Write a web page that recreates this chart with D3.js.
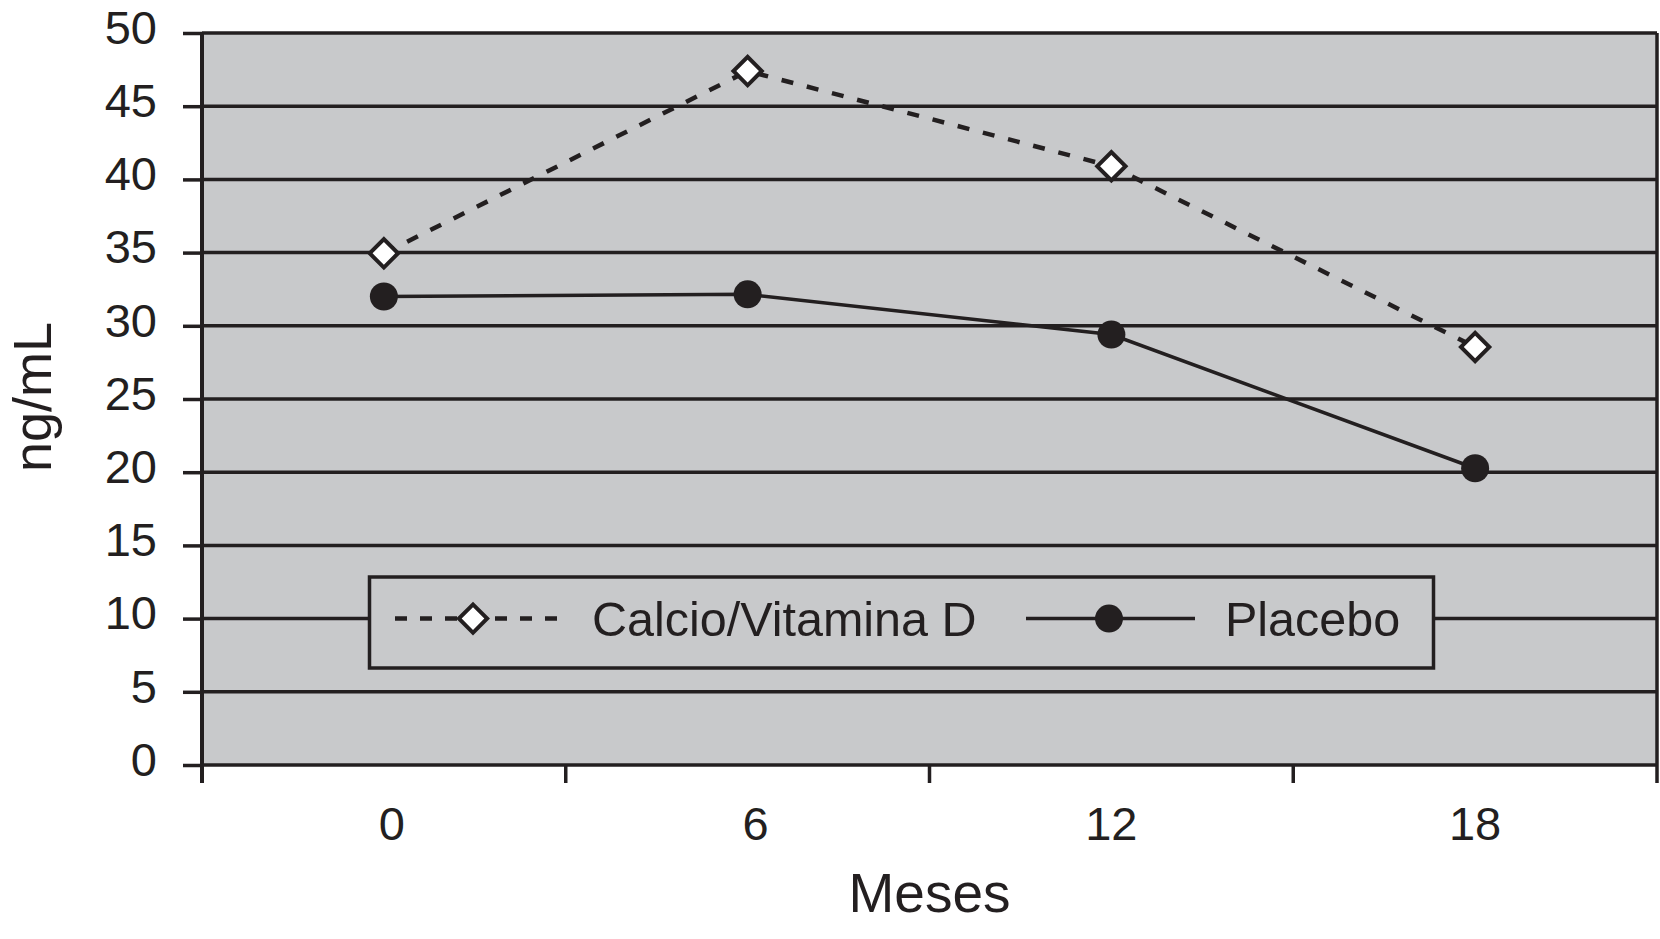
<!DOCTYPE html>
<html>
<head>
<meta charset="utf-8">
<script src="https://cdn.jsdelivr.net/npm/d3@7"></script>
<style>
  html, body { margin: 0; padding: 0; background: #ffffff; }
  svg { display: block; }
  text { font-family: "Liberation Sans", Arial, Helvetica, sans-serif; fill: #231f20; }
</style>
</head>
<body>
<svg id="chart" width="1660" height="939"></svg>
<script>
// ---- data ----
const categories = ["0", "6", "12", "18"];
const calcioValues = [34.95, 47.4, 40.9, 28.55];
const placeboValues = [32.0, 32.15, 29.4, 20.27];
const yTicks = [0, 5, 10, 15, 20, 25, 30, 35, 40, 45, 50];
const seriesNames = ["Calcio/Vitamina D", "Placebo"];
const xTitle = "Meses";
const yTitle = "ng/mL";

// ---- layout ----
const ink = "#231f20";
const plotBg = "#c8c9cb";
const mLeft = 202, mRight = 1657, mTop = 33, mBottom = 765;

const svg = d3.select("#chart");

const x = d3.scaleBand().domain(categories).range([mLeft, mRight]).padding(0);
const y = d3.scaleLinear().domain([0, 50]).range([mBottom, mTop]);
const cx = c => x(c) + x.bandwidth() / 2;

// plot background
svg.append("rect")
  .attr("x", mLeft).attr("y", mTop)
  .attr("width", mRight - mLeft).attr("height", mBottom - mTop)
  .attr("fill", plotBg);

// gridlines
svg.append("g")
  .selectAll("line")
  .data(yTicks)
  .join("line")
  .attr("x1", mLeft).attr("x2", mRight)
  .attr("y1", d => y(d)).attr("y2", d => y(d))
  .attr("stroke", ink).attr("stroke-width", 3.5);

// y axis
const yAxis = d3.axisLeft(y).tickValues(yTicks).tickSize(19).tickPadding(26).tickFormat(d3.format("d"));
const gy = svg.append("g").attr("transform", `translate(${mLeft},0)`).call(yAxis);
gy.select(".domain").remove();
gy.selectAll(".tick line").attr("stroke", ink).attr("stroke-width", 3.5);
gy.selectAll(".tick text")
  .attr("font-size", 47)
  .attr("fill", ink)
  .attr("dy", "0.22em")
  .attr("x", -45)
  .style("font-family", '"Liberation Sans", Arial, sans-serif');

// left axis line and right border
svg.append("line")
  .attr("x1", mLeft).attr("x2", mLeft).attr("y1", mTop).attr("y2", mBottom + 18)
  .attr("stroke", ink).attr("stroke-width", 4);
svg.append("line")
  .attr("x1", mRight).attr("x2", mRight).attr("y1", mTop).attr("y2", mBottom + 18)
  .attr("stroke", ink).attr("stroke-width", 3.5);

// x tick marks at band boundaries
const boundaries = categories.map(c => x(c)).concat([x(categories[categories.length - 1]) + x.bandwidth()]);
svg.append("g")
  .selectAll("line")
  .data(boundaries.slice(1, -1))
  .join("line")
  .attr("x1", d => d).attr("x2", d => d)
  .attr("y1", mBottom).attr("y2", mBottom + 18)
  .attr("stroke", ink).attr("stroke-width", 3.5);

// x axis labels
const xAxis = d3.axisBottom(x).tickSize(0).tickPadding(0);
const gx = svg.append("g").attr("transform", `translate(0,${mBottom})`).call(xAxis);
gx.select(".domain").remove();
gx.selectAll(".tick text")
  .attr("font-size", 47)
  .attr("fill", ink)
  .attr("y", 75)
  .attr("dy", 0)
  .attr("dx", (d, i) => (i < 2 ? 8 : 0))
  .style("font-family", '"Liberation Sans", Arial, sans-serif');

// axis titles
svg.append("text")
  .attr("x", (mLeft + mRight) / 2).attr("y", 912)
  .attr("text-anchor", "middle")
  .attr("font-size", 55)
  .text(xTitle);
svg.append("text")
  .attr("transform", `translate(51,${(mTop + mBottom) / 2 - 2}) rotate(-90)`)
  .attr("text-anchor", "middle")
  .attr("font-size", 54)
  .text(yTitle);

// lines
const line = d3.line().x((d, i) => cx(categories[i])).y(d => y(d));

svg.append("path")
  .datum(placeboValues)
  .attr("d", line)
  .attr("fill", "none")
  .attr("stroke", ink).attr("stroke-width", 3.5);

svg.append("path")
  .datum(calcioValues)
  .attr("d", line)
  .attr("fill", "none")
  .attr("stroke", ink).attr("stroke-width", 4.5)
  .attr("stroke-dasharray", "12,14");

// markers
const diamond = d3.symbol().type(d3.symbolSquare).size(400);
svg.append("g")
  .selectAll("path")
  .data(calcioValues)
  .join("path")
  .attr("d", diamond)
  .attr("transform", (d, i) => `translate(${cx(categories[i])},${y(d)}) rotate(45)`)
  .attr("fill", "#ffffff")
  .attr("stroke", ink).attr("stroke-width", 4);

svg.append("g")
  .selectAll("circle")
  .data(placeboValues)
  .join("circle")
  .attr("cx", (d, i) => cx(categories[i]))
  .attr("cy", d => y(d))
  .attr("r", 14)
  .attr("fill", ink);

// legend
const lg = svg.append("g");
lg.append("rect")
  .attr("x", 369.5).attr("y", 577)
  .attr("width", 1433.5 - 369.5).attr("height", 668 - 577)
  .attr("fill", plotBg)
  .attr("stroke", ink).attr("stroke-width", 3.5);
const ly = y(10);
lg.append("line")
  .attr("x1", 395).attr("x2", 562).attr("y1", ly).attr("y2", ly)
  .attr("stroke", ink).attr("stroke-width", 4.5)
  .attr("stroke-dasharray", "12,13");
lg.append("path")
  .attr("d", diamond)
  .attr("transform", `translate(473,${ly}) rotate(45)`)
  .attr("fill", "#ffffff")
  .attr("stroke", ink).attr("stroke-width", 4);
lg.append("text")
  .attr("x", 592).attr("y", ly + 17.5)
  .attr("font-size", 48.5)
  .text(seriesNames[0]);
lg.append("line")
  .attr("x1", 1026).attr("x2", 1195).attr("y1", ly).attr("y2", ly)
  .attr("stroke", ink).attr("stroke-width", 3.5);
lg.append("circle")
  .attr("cx", 1109).attr("cy", ly).attr("r", 14)
  .attr("fill", ink);
lg.append("text")
  .attr("x", 1225).attr("y", ly + 17.5)
  .attr("font-size", 48.5)
  .text(seriesNames[1]);
</script>
</body>
</html>
